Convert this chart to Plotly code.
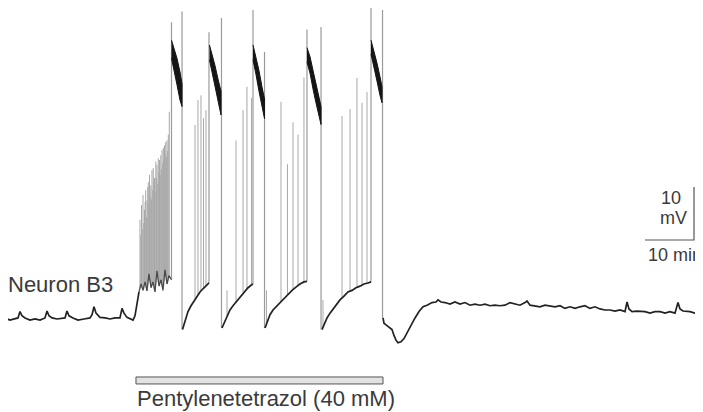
import numpy as np
import plotly.graph_objects as go

# ---- Data: time in seconds, membrane potential in mV (calibrated to the 10 min / 10 mV scale bars) ----
# Pre-drug baseline with small spontaneous bumps
base_t = [0, 61, 122, 184, 220, 245, 269, 306, 367, 429, 490, 551, 576, 600, 637, 698, 759, 796, 820, 845,
          894, 955, 1029, 1102, 1127, 1151, 1176, 1224, 1286, 1347, 1408, 1469, 1494, 1518, 1555, 1592, 1629,
          1653, 1678, 1702]
base_v = [-50.0, -49.8, -50.2, -50.0, -49.8, -48.6, -49.4, -49.8, -50.2, -50.0, -50.2, -49.8, -48.5, -49.4,
          -49.8, -50.0, -49.8, -49.8, -48.5, -49.4, -49.8, -50.2, -50.0, -49.8, -49.2, -47.7, -48.9, -49.7,
          -49.8, -50.0, -49.8, -49.8, -48.0, -48.9, -49.7, -50.0, -50.2, -49.4, -47.4, -44.9]

# Foot of the first (long) burst
burst1_t = [1702, 1727, 1751, 1776, 1800, 1824, 1849, 1873, 1898, 1922, 1947, 1971, 1996, 2020, 2045, 2069, 2100]
burst1_v = [-44.9, -43.4, -44.6, -43.0, -44.7, -41.5, -44.1, -43.0, -44.9, -40.9, -43.8, -42.6, -44.6, -40.7,
            -43.4, -41.8, -42.6]

# Recovery phases after each burst
rec1_t = [2235, 2265, 2302, 2339, 2376, 2412, 2449, 2486, 2522, 2559]
rec1_v = [-52.0, -50.6, -48.6, -47.5, -46.6, -45.7, -44.9, -44.3, -43.8, -43.2]
rec2_t = [2718, 2743, 2780, 2816, 2853, 2890, 2939, 2988, 3037, 3086, 3098]
rec2_v = [-51.7, -50.9, -49.4, -48.3, -47.5, -46.8, -45.8, -44.9, -44.1, -43.5, -43.4]
rec3_t = [3245, 3269, 3306, 3343, 3380, 3429, 3478, 3527, 3576, 3624, 3673, 3722, 3759]
rec3_v = [-51.7, -50.6, -49.2, -48.3, -47.7, -46.9, -46.0, -45.2, -44.6, -44.0, -43.4, -43.0, -42.9]
rec4_t = [3943, 3967, 4004, 4041, 4078, 4114, 4163, 4212, 4261, 4310, 4359, 4408, 4457, 4506, 4543]
rec4_v = [-52.0, -51.1, -49.8, -48.9, -48.1, -47.4, -46.4, -45.7, -44.9, -44.6, -44.1, -43.8, -43.4, -43.2, -43.0]

# Washout
post_t = [4690, 4702, 4727, 4763, 4800, 4824, 4849, 4873, 4910, 4947, 4984, 5033, 5082, 5131, 5180, 5229, 5290,
          5339, 5363, 5400, 5449, 5510, 5571, 5633, 5694, 5755, 5816, 5878, 5939, 6000, 6061, 6122, 6184, 6245,
          6306, 6367, 6429, 6453, 6490, 6551, 6612, 6673, 6735, 6796, 6857, 6918, 6980, 7041, 7102, 7163, 7224,
          7286, 7347, 7408, 7469, 7531, 7592, 7653, 7678, 7702, 7739, 7800, 7898, 7959, 8020, 8082, 8143, 8204,
          8265, 8302, 8327, 8363, 8449, 8510, 8608]
post_v = [-49.8, -50.8, -51.1, -51.5, -52.0, -53.1, -54.0, -54.5, -54.3, -53.7, -52.6, -51.1, -49.8, -48.6, -47.7,
          -47.4, -46.9, -46.8, -46.4, -46.8, -46.9, -47.2, -46.8, -47.2, -46.9, -47.4, -47.2, -47.4, -47.2, -47.5,
          -47.4, -47.5, -47.4, -46.9, -47.2, -47.4, -46.9, -46.6, -47.4, -47.5, -47.7, -47.4, -47.5, -47.7, -47.5,
          -48.0, -47.7, -48.0, -47.7, -47.5, -48.0, -47.7, -48.1, -48.3, -48.3, -48.5, -48.3, -48.6, -46.8, -48.1,
          -48.6, -48.5, -48.6, -48.9, -48.6, -48.6, -48.9, -48.6, -48.9, -46.9, -48.1, -48.5, -48.6, -48.9, -49.1]

# Action potentials (time, peak)
spike_t = [1714, 1724, 1733, 1741, 1751, 1760, 1769, 1777, 1784, 1793, 1800, 1809, 1816, 1823, 1831, 1838,
           1847, 1854, 1861, 1870, 1877, 1884, 1892, 1899, 1908, 1915, 1922, 1931, 1938, 1946, 1953, 1960,
           1969, 1976, 1984, 1992, 2000, 2007, 2014, 2022, 2030, 2038, 2045, 2053, 2061, 2073,
           2388, 2424, 2461, 2492, 2522,
           2780, 2890, 2976, 3024, 3080,
           3263, 3441, 3520, 3588, 3649, 3722,
           3955, 4188, 4286, 4371, 4433, 4494]
spike_peak = [-31.3, -34.2, -28.5, -33.0, -26.6, -31.9, -29.4, -27.9, -25.7, -30.8, -27.6, -25.1, -24.2, -28.5,
              -22.8, -26.8, -24.8, -27.4, -21.9, -25.7, -21.5, -24.0, -23.4, -26.2, -20.3, -23.4, -20.9, -24.5,
              -19.7, -22.3, -20.0, -22.8, -19.1, -21.7, -18.1, -20.6, -17.7, -20.0, -17.2, -18.9, -16.6, -19.4,
              -16.3, -18.3, -15.2, -10.9,
              -13.4, -8.7, -7.8, -12.1, -10.6,
              -44.6, -16.3, -10.6, -6.2, -8.3,
              -44.6, -9.0, -20.8, -12.9, -15.2, -4.4,
              -46.4, -11.7, -10.4, -4.5, -9.2, -7.2]

# Large spikes framing each plateau (time, peak, foot)
tall_t = [2100, 2229, 2559, 2712, 3098, 3239, 3759, 3931, 4543, 4684]
tall_peak = [6.0, 8.0, 4.1, 6.8, 8.3, 0.4, 4.6, 5.1, 8.9, 8.3]
tall_foot = [-42.6, -52.0, -43.2, -51.7, -43.4, -51.7, -42.9, -52.0, -43.0, -49.8]

# High-frequency plateau bands: upper and lower envelopes
band_t = [[2100, 2131, 2167, 2204, 2229], [2565, 2596, 2633, 2669, 2706],
          [3098, 3135, 3171, 3208, 3239], [3759, 3796, 3833, 3869, 3906, 3931],
          [4543, 4580, 4616, 4653, 4678]]
band_hi = [[2.6, 0.9, -0.8, -3.4, -5.6], [1.7, 0.0, -2.2, -4.7, -7.0],
           [1.7, -0.5, -3.1, -6.2, -8.5], [1.2, -0.5, -3.1, -5.8, -8.5, -9.9],
           [2.6, 0.6, -1.7, -4.3, -6.2]]
band_lo = [[-0.8, -3.2, -5.8, -8.7, -9.9], [-1.1, -3.6, -6.2, -8.9, -11.5],
           [-1.1, -3.9, -7.0, -10.0, -12.2], [-1.5, -3.6, -6.6, -9.2, -11.8, -13.3],
           [0.0, -2.5, -5.1, -7.8, -9.2]]

drug_on, drug_off = 1665, 4690
drug_label = "Pentylenetetrazol (40 mM)"
cell_label = "Neuron B3"
scale_t, scale_v = 600, 10  # 10 min, 10 mV

# ---- Figure ----
fig = go.Figure()

# spike lines, rising from the membrane trace
foot_src_t = burst1_t + rec1_t + rec2_t + rec3_t + rec4_t
foot_src_v = burst1_v + rec1_v + rec2_v + rec3_v + rec4_v
feet = np.interp(spike_t, foot_src_t, foot_src_v)
sx, sy = [], []
for t, p, f in zip(spike_t, spike_peak, feet):
    sx += [t, t, None]
    sy += [f, p, None]
fig.add_trace(go.Scatter(x=sx, y=sy, mode="lines", line=dict(color="#a8a8a8", width=1),
                         hoverinfo="skip", showlegend=False))

tx, ty = [], []
for t, p, f in zip(tall_t, tall_peak, tall_foot):
    tx += [t, t, None]
    ty += [f, p, None]
fig.add_trace(go.Scatter(x=tx, y=ty, mode="lines", line=dict(color="#9a9a9a", width=1.2),
                         hoverinfo="skip", showlegend=False))

# plateau bands
bx, by = [], []
for t, hi, lo in zip(band_t, band_hi, band_lo):
    bx += t + t[::-1] + [None]
    by += hi + lo[::-1] + [None]
fig.add_trace(go.Scatter(x=bx, y=by, mode="lines", fill="toself", fillcolor="#151515",
                         line=dict(color="#151515", width=1), hoverinfo="skip", showlegend=False))

# membrane potential trace
mx, my = [], []
for t, v in [(base_t, base_v), (rec1_t, rec1_v), (rec2_t, rec2_v),
             (rec3_t, rec3_v), (rec4_t, rec4_v), (post_t, post_v)]:
    mx += t + [None]
    my += v + [None]
fig.add_trace(go.Scatter(x=mx, y=my, mode="lines", line=dict(color="#222222", width=1.7),
                         hoverinfo="skip", showlegend=False))
fig.add_trace(go.Scatter(x=burst1_t, y=burst1_v, mode="lines", line=dict(color="#4a4a4a", width=1.3),
                         hoverinfo="skip", showlegend=False))

# scale bars (L shape)
sb_t1, sb_v0 = 8498, -35.1
fig.add_trace(go.Scatter(x=[sb_t1 - scale_t, sb_t1, sb_t1], y=[sb_v0, sb_v0, sb_v0 + scale_v],
                         mode="lines", line=dict(color="#555555", width=1.2),
                         hoverinfo="skip", showlegend=False))

# drug application bar
fig.add_shape(type="rect", x0=drug_on, x1=drug_off, y0=-62.26, y1=-60.94,
              fillcolor="#e2e2e2", line=dict(color="#555555", width=1))

font = dict(family="Liberation Sans, Arial, sans-serif", color="#3a3a3a")
fig.add_annotation(x=1653, y=-64.91, text=drug_label, showarrow=False, xanchor="left",
                   yanchor="middle", font=dict(size=22, **font))
fig.add_annotation(x=735, y=-43.58, text=cell_label, showarrow=False, xanchor="center",
                   yanchor="middle", font=dict(size=22, **font))
fig.add_annotation(x=8216, y=-27.26, text="10", showarrow=False, xanchor="center",
                   yanchor="middle", font=dict(size=18, **font))
fig.add_annotation(x=8247, y=-30.94, text="mV", showarrow=False, xanchor="center",
                   yanchor="middle", font=dict(size=18, **font))
fig.add_annotation(x=7910, y=-37.92, text="10 min", showarrow=False, xanchor="left",
                   yanchor="middle", font=dict(size=18, **font))

# page body has an 8 px inset; axis ranges are offset so data lands at the reference positions
fig.update_layout(width=703, height=412, margin=dict(l=0, r=0, t=0, b=0),
                  paper_bgcolor="white", plot_bgcolor="white", showlegend=False)
fig.update_xaxes(range=[97.96, 8706.2], visible=False, showgrid=False, zeroline=False)
fig.update_yaxes(range=[-69.06, 8.68], visible=False, showgrid=False, zeroline=False)

fig.write_html("out.html")
